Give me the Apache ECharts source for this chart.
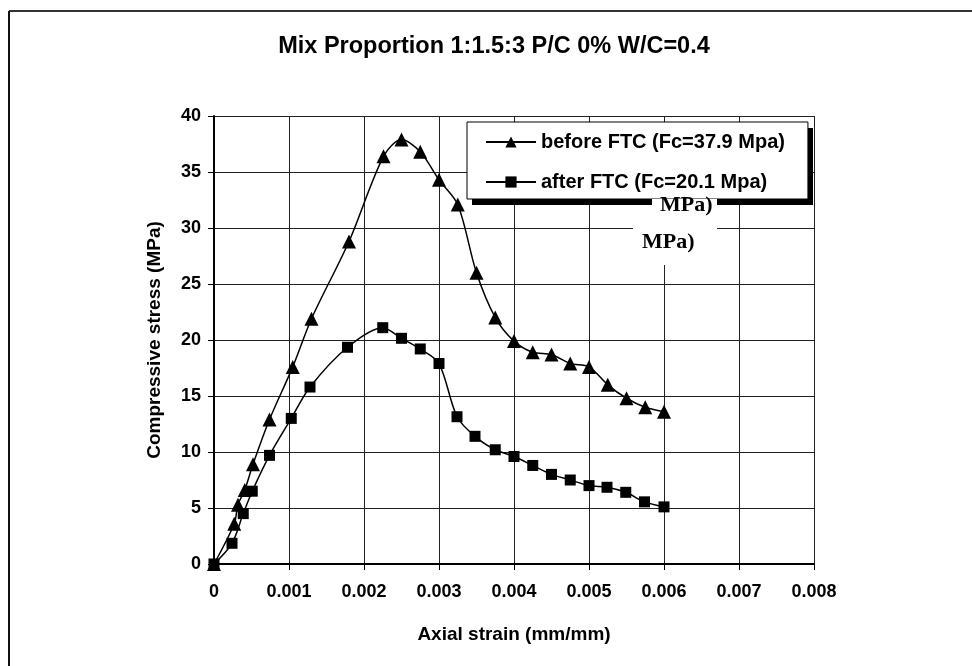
<!DOCTYPE html>
<html>
<head>
<meta charset="utf-8">
<script src="https://cdn.jsdelivr.net/npm/echarts@6/dist/echarts.min.js"></script>
<style>
  html, body { margin: 0; padding: 0; background: #fff; }
  #main { width: 972px; height: 666px; }
</style>
</head>
<body>
<div id="main"></div>
<script>
// before FTC (triangles)
const strainBefore = [0, 0.00027, 0.00032, 0.00041, 0.00052, 0.00074, 0.00105, 0.0013, 0.0018, 0.00226, 0.0025, 0.00275, 0.003, 0.00325, 0.0035, 0.00375, 0.004, 0.00425, 0.0045, 0.00475, 0.005, 0.00525, 0.0055, 0.00575, 0.006]
const stressBefore = [0, 3.6, 5.3, 6.6, 8.9, 12.9, 17.6, 21.9, 28.8, 36.4, 37.9, 36.8, 34.3, 32.1, 26.0, 22.0, 19.9, 18.9, 18.7, 17.9, 17.6, 16.0, 14.8, 14.0, 13.6]
// after FTC (squares)
const strainAfter = [0, 0.00024, 0.00039, 0.00051, 0.00074, 0.00103, 0.00128, 0.00178, 0.00225, 0.0025, 0.00275, 0.003, 0.00324, 0.00348, 0.00375, 0.004, 0.00425, 0.0045, 0.00475, 0.005, 0.00524, 0.00549, 0.00574, 0.006]
const stressAfter = [0, 1.85, 4.5, 6.5, 9.7, 13.0, 15.8, 19.35, 21.1, 20.15, 19.2, 17.9, 13.15, 11.4, 10.2, 9.6, 8.8, 8.0, 7.5, 7.0, 6.85, 6.4, 5.55, 5.1]
const seriesNames = ['before FTC (Fc=37.9 Mpa)', 'after FTC (Fc=20.1 Mpa)']

const font = '"Liberation Sans", Arial, sans-serif'
const serifFont = 'bold 22px "Liberation Serif", "Times New Roman", serif'
const pairs = (xs, ys) => xs.map((x, i) => [x, ys[i]])

const chart = echarts.init(document.getElementById('main'), null, { renderer: 'canvas' })
chart.setOption({
  backgroundColor: '#fff',
  animation: false,
  title: {
    text: 'Mix Proportion 1:1.5:3 P/C 0% W/C=0.4',
    left: 489,
    top: 30,
    textAlign: 'center',
    textStyle: { fontFamily: font, fontSize: 23.5, fontWeight: 'bold', color: '#000' },
  },
  grid: { left: 214, right: 158, top: 116, bottom: 102 },
  legend: {
    orient: 'vertical',
    left: 467,
    top: 122,
    padding: [10, 23, 7, 18],
    itemGap: 20,
    itemWidth: 50,
    itemHeight: 14,
    backgroundColor: '#fff',
    borderColor: '#000',
    borderWidth: 1,
    borderRadius: 0,
    textStyle: { fontFamily: font, fontSize: 20, fontWeight: 'bold', color: '#000', lineHeight: 20 },
    data: seriesNames,
  },
  xAxis: {
    type: 'value',
    min: 0,
    max: 0.008,
    interval: 0.001,
    name: 'Axial strain (mm/mm)',
    nameLocation: 'middle',
    nameGap: 61,
    nameTextStyle: { fontFamily: font, fontSize: 19, fontWeight: 'bold', color: '#000' },
    axisLine: { show: true, onZero: false, lineStyle: { color: '#000', width: 2 } },
    axisTick: { show: true, inside: false, length: 6, lineStyle: { color: '#000' } },
    axisLabel: {
      margin: 19,
      fontFamily: font, fontSize: 18, fontWeight: 'bold', color: '#000',
      formatter: v => (v === 0 ? '0' : v.toFixed(3)),
    },
    splitLine: { show: true, lineStyle: { color: '#222', width: 1 } },
  },
  yAxis: {
    type: 'value',
    min: 0,
    max: 40,
    interval: 5,
    name: 'Compressive stress (MPa)',
    nameLocation: 'middle',
    nameGap: 50,
    nameTextStyle: { fontFamily: font, fontSize: 19, fontWeight: 'bold', color: '#000' },
    axisLine: { show: true, onZero: false, lineStyle: { color: '#000', width: 2 } },
    axisTick: { show: true, inside: false, length: 6, lineStyle: { color: '#000' } },
    axisLabel: { margin: 13, fontFamily: font, fontSize: 18, fontWeight: 'bold', color: '#000' },
    splitLine: { show: true, lineStyle: { color: '#222', width: 1 } },
  },
  series: [
    {
      name: seriesNames[0],
      type: 'line',
      data: pairs(strainBefore, stressBefore),
      smooth: 0.3,
      symbol: 'triangle',
      symbolSize: 14,
      showAllSymbol: true,
      lineStyle: { color: '#000', width: 1.5 },
      itemStyle: { color: '#000' },
      z: 3,
    },
    {
      name: seriesNames[1],
      type: 'line',
      data: pairs(strainAfter, stressAfter),
      smooth: 0.3,
      symbol: 'rect',
      symbolSize: 11,
      showAllSymbol: true,
      lineStyle: { color: '#000', width: 1.5 },
      itemStyle: { color: '#000' },
      z: 3,
    },
  ],
  graphic: [
    // page frame (left and top edges)
    { type: 'line', z: 100, shape: { x1: 9, y1: 11, x2: 972, y2: 11 }, style: { stroke: '#333', lineWidth: 2 } },
    { type: 'line', z: 100, shape: { x1: 9, y1: 11, x2: 9, y2: 666 }, style: { stroke: '#111', lineWidth: 2 } },
    // legend drop shadow
    { type: 'rect', z: 3, shape: { x: 472, y: 128, width: 341, height: 77 }, style: { fill: '#000' } },
    // stray overlapping text boxes below the legend
    { type: 'rect', z: 100, shape: { x: 652, y: 199, width: 65, height: 19 }, style: { fill: '#fff' } },
    { type: 'rect', z: 100, shape: { x: 633, y: 218, width: 84, height: 47 }, style: { fill: '#fff' } },
    { type: 'text', z: 101, left: 660, top: 194, style: { text: 'MPa)', fill: '#000', font: serifFont } },
    { type: 'text', z: 101, left: 642, top: 231, style: { text: 'MPa)', fill: '#000', font: serifFont } },
  ],
})
</script>
</body>
</html>
